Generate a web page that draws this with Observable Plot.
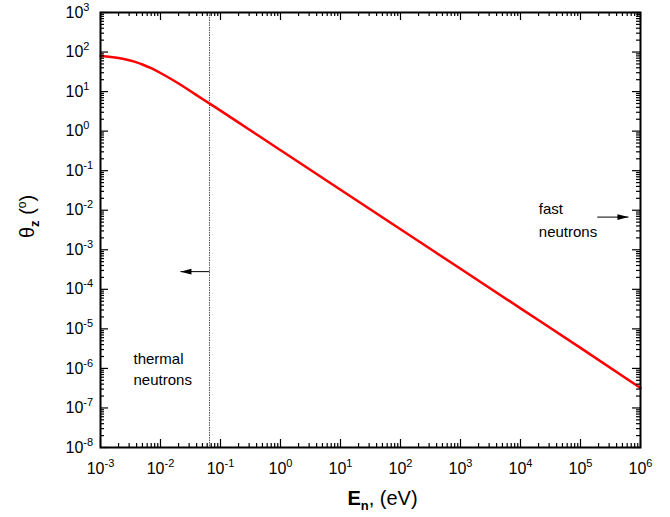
<!DOCTYPE html>
<html><head><meta charset="utf-8">
<script src="https://cdn.jsdelivr.net/npm/d3@7"></script>
<script src="https://cdn.jsdelivr.net/npm/@observablehq/plot@0.6"></script>
<style>
  html, body { margin: 0; padding: 0; background: #fff; }
  svg { display: block; }
</style>
</head><body><div id="chart"></div>
<script>
// Neutron energy (eV) and angle theta_z (degrees)
const energy = [1e-3, 1.5e-3, 2e-3, 3e-3, 4e-3, 5e-3, 7e-3, 1e-2, 1.5e-2, 2e-2, 3e-2, 5e-2, 1e-1, 3e-1, 1, 10, 100, 1e3, 1e4, 1e5, 1e6];
const theta  = [79, 75, 70.5, 62, 55, 48.5, 39, 29.5, 20.8, 16, 10.8, 6.5, 3.3, 1.1, 0.33, 0.033, 3.3e-3, 3.3e-4, 3.3e-5, 3.3e-6, 3.2e-7];

const xTickValues = [1e-3, 1e-2, 1e-1, 1, 10, 100, 1e3, 1e4, 1e5, 1e6];
const xTickLabels = ["10^-3", "10^-2", "10^-1", "10^0", "10^1", "10^2", "10^3", "10^4", "10^5", "10^6"];
const yTickValues = [1e-8, 1e-7, 1e-6, 1e-5, 1e-4, 1e-3, 1e-2, 1e-1, 1, 10, 100, 1e3];
const yTickLabels = ["10^-8", "10^-7", "10^-6", "10^-5", "10^-4", "10^-3", "10^-2", "10^-1", "10^0", "10^1", "10^2", "10^3"];

const thermalCutoff = [0.0656];

const noteText = ["thermal", "neutrons", "fast", "neutrons"];
const noteX = [3.55e-3, 3.55e-3, 2.02e4, 2.02e4];
const noteY = [1.73e-6, 4.9e-7, 0.0108, 2.75e-3];

const arrowFromX = [0.0656, 1.9e5];
const arrowToX = [0.0215, 6.3e5];
const arrowY = [2.8e-4, 6.7e-3];
const arrowDir = [180, 0];

// ---- build tables
const curve = energy.map((e, i) => ({e, t: theta[i]}));
const xTicks = xTickValues.map((v, i) => ({v, label: xTickLabels[i]}));
const yTicks = yTickValues.map((v, i) => ({v, label: yTickLabels[i]}));
const notes = noteText.map((t, i) => ({t, x: noteX[i], y: noteY[i]}));
const arrows = arrowFromX.map((x1, i) => ({x1, x2: arrowToX[i], y: arrowY[i], dir: arrowDir[i]}));
const minorOf = vals => vals.slice(0, -1).flatMap(d => [2,3,4,5,6,7,8,9].map(k => d * k));
const minorXValues = minorOf(xTickValues);
const minorYValues = minorOf(yTickValues);

const W = 670, H = 517, mt = 12, mr = 30, mb = 70, ml = 100;
const plotH = H - mt - mb, plotW = W - ml - mr;
const majorLen = 8, minorLen = 4;

const head = {draw(ctx) { ctx.moveTo(0, 0); ctx.lineTo(-11, -2.8); ctx.lineTo(-11, 2.8); ctx.closePath(); }};

const chart = Plot.plot({
  width: W, height: H,
  marginTop: mt, marginRight: mr, marginBottom: mb, marginLeft: ml,
  style: {fontFamily: "'Liberation Sans', Arial, sans-serif", background: "#fff", color: "#000"},
  x: {type: "log", domain: [1e-3, 1e6], axis: null},
  y: {type: "log", domain: [1e-8, 1e3], axis: null},
  marks: [
    Plot.ruleX(thermalCutoff, {stroke: "#555", strokeWidth: 1, strokeDasharray: "1.5,1"}),
    Plot.line(curve, {x: "e", y: "t", stroke: "#ff0000", strokeWidth: 2.5, curve: "monotone-x"}),
    // inward ticks on all four sides
    Plot.ruleX(xTickValues, {insetTop: plotH - majorLen, stroke: "#000", strokeWidth: 1.2}),
    Plot.ruleX(xTickValues, {insetBottom: plotH - majorLen, stroke: "#000", strokeWidth: 1.2}),
    Plot.ruleX(minorXValues, {insetTop: plotH - minorLen, stroke: "#000", strokeWidth: 1.2}),
    Plot.ruleX(minorXValues, {insetBottom: plotH - minorLen, stroke: "#000", strokeWidth: 1.2}),
    Plot.ruleY(yTickValues, {insetRight: plotW - majorLen, stroke: "#000", strokeWidth: 1.2}),
    Plot.ruleY(yTickValues, {insetLeft: plotW - majorLen, stroke: "#000", strokeWidth: 1.2}),
    Plot.ruleY(minorYValues, {insetRight: plotW - minorLen, stroke: "#000", strokeWidth: 1.2}),
    Plot.ruleY(minorYValues, {insetLeft: plotW - minorLen, stroke: "#000", strokeWidth: 1.2}),
    Plot.frame({stroke: "#000", strokeWidth: 2}),
    Plot.text(xTicks, {x: "v", text: "label", frameAnchor: "bottom", lineAnchor: "top", dy: 15, fontSize: 16, textAnchor: "middle", fill: "#000"}),
    Plot.text(yTicks, {y: "v", text: "label", frameAnchor: "left", dx: -35, fontSize: 16, textAnchor: "start", fill: "#000"}),
    Plot.text(notes, {x: "x", y: "y", text: "t", textAnchor: "start", fontSize: 15, fill: "#000"}),
    Plot.link(arrows, {x1: "x1", x2: "x2", y1: "y", y2: "y", stroke: "#000", strokeWidth: 1}),
    Plot.dot(arrows, {x: "x2", y: "y", symbol: head, rotate: "dir", fill: "#000", stroke: null}),
    Plot.text(["E"], {frameAnchor: "bottom", dy: 57.5, dx: 12, fontSize: 20, text: d => d, fill: "#000"}),
    Plot.text(["θ"], {frameAnchor: "left", dx: -73, dy: 8, rotate: -90, fontSize: 20, text: d => d, fill: "#000"})
  ]
});
document.getElementById("chart").appendChild(chart);

// fallback: if the tick rules did not come out, draw them from Plot's own scales
const ruleLines = chart.querySelectorAll('g[aria-label="rule"] line').length;
const expected = 1 + 2 * (xTickValues.length + minorXValues.length + yTickValues.length + minorYValues.length);
if (ruleLines < expected) {
  const sx = chart.scale("x"), sy = chart.scale("y");
  const top = mt, bottom = H - mb, left = ml, right = W - mr;
  const g = d3.select(chart).append("g").attr("stroke", "#000").attr("stroke-width", 1.2);
  const addX = (vals, len) => vals.forEach(v => {
    const x = Math.round(sx.apply(v)) + 0.5;
    g.append("line").attr("x1", x).attr("x2", x).attr("y1", bottom).attr("y2", bottom - len);
    g.append("line").attr("x1", x).attr("x2", x).attr("y1", top).attr("y2", top + len);
  });
  const addY = (vals, len) => vals.forEach(v => {
    const y = Math.round(sy.apply(v)) + 0.5;
    g.append("line").attr("y1", y).attr("y2", y).attr("x1", left).attr("x2", left + len);
    g.append("line").attr("y1", y).attr("y2", y).attr("x1", right).attr("x2", right - len);
  });
  addX(xTickValues, majorLen); addX(minorXValues, minorLen);
  addY(yTickValues, majorLen); addY(minorYValues, minorLen);
}

// rich text: superscripts / subscripts
d3.select(chart).selectAll("text").each(function() {
  const s = this.textContent;
  const t = d3.select(this);
  if (/^10\^/.test(s)) {
    const [base, exp] = s.split("^");
    t.text(null);
    t.append("tspan").text(base);
    t.append("tspan").attr("dy", -7).attr("font-size", 11).text(exp);
  } else if (s === "E") {
    t.text(null);
    t.append("tspan").attr("font-weight", "bold").text("E");
    t.append("tspan").attr("font-weight", "bold").attr("font-size", 13).attr("dy", 5).text("n");
    t.append("tspan").attr("dy", -5).text(", (eV)");
  } else if (s === "θ") {
    t.text(null);
    t.append("tspan").text("θ");
    t.append("tspan").attr("font-weight", "bold").attr("font-size", 13).attr("dy", 5).text("z");
    t.append("tspan").attr("dy", -5).text(" (");
    t.append("tspan").attr("font-size", 12).attr("dy", -8).text("o");
    t.append("tspan").attr("dy", 8).text(")");
  }
});
</script>
</body></html>
